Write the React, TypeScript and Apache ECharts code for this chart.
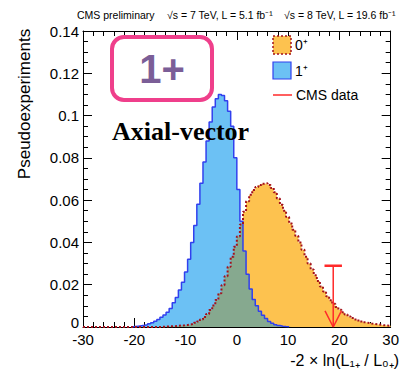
import React, { useEffect, useRef } from "react";
import * as echarts from "echarts";

// ---- data -------------------------------------------------------------
const BIN_START = -30;
const BIN_END = 30;
const BIN_WIDTH = 0.6;
const X_MIN = -30;
const X_MAX = 30;
const X_INTERVAL = 10;
const Y_MIN = 0;
const Y_MAX = 0.14;
const Y_INTERVAL = 0.02;

// 1+ (axial-vector) pseudo-experiments, bins starting at index 16 (x = -20.4)
const ONE_PLUS_FIRST_BIN = 16;
const onePlus = [
  0.0002, 0.0004, 0.0006, 0.0008, 0.0011, 0.0015, 0.002, 0.0027, 0.0036, 0.0046,
  0.0057, 0.007, 0.0088, 0.0115, 0.014, 0.0175, 0.0212, 0.026, 0.032, 0.04,
  0.048, 0.058, 0.068, 0.078, 0.088, 0.097, 0.104, 0.108, 0.11, 0.1095,
  0.107, 0.102, 0.095, 0.08, 0.065, 0.05, 0.036, 0.025, 0.018, 0.013,
  0.01, 0.0075, 0.0055, 0.004, 0.0026, 0.0018, 0.0011, 0.0007, 0.0004, 0.0002,
  0.0001,
];

// 0+ (SM) pseudo-experiments, bins starting at index 25 (x = -15.0)
const ZERO_PLUS_FIRST_BIN = 25;
const zeroPlus = [
  0.0001, 0.0002, 0.0003, 0.0003, 0.0004, 0.0005, 0.0007, 0.0008, 0.001, 0.0012,
  0.0015, 0.002, 0.0026, 0.0035, 0.0047, 0.0062, 0.008, 0.0102, 0.0128, 0.016,
  0.0198, 0.024, 0.0285, 0.0332, 0.038, 0.0428, 0.0485, 0.0545, 0.0595, 0.0625,
  0.0648, 0.0662, 0.0672, 0.0678, 0.068, 0.0672, 0.0658, 0.0637, 0.0608, 0.0578,
  0.055, 0.052, 0.049, 0.046, 0.043, 0.04, 0.0365, 0.0332, 0.03, 0.0272,
  0.0245, 0.0218, 0.0192, 0.0168, 0.0145, 0.0127, 0.011, 0.0095, 0.0082, 0.007,
  0.0059, 0.005, 0.0042, 0.0036, 0.0031, 0.0026, 0.0022, 0.0019, 0.0016, 0.0014,
  0.0012, 0.001, 0.0008, 0.0007, 0.0006,
];

// observed CMS value of the test statistic
const cmsObserved = 18.8;
const cmsArrowTop = 0.029;
const cmsBarHalfWidth = 1.7;
const cmsHeadHalfWidth = 1.6;
const cmsHeadHeight = 0.0076;

const titleTexts = [
  "CMS preliminary",
  "√s = 7 TeV, L = 5.1 fb⁻¹",
  "√s = 8 TeV, L = 19.6 fb⁻¹",
];

// ---- colours ----------------------------------------------------------
const ORANGE = "#fdc24f";
const ORANGE_LINE = "#a3121c";
const BLUE = "#6cc1f4";
const BLUE_LINE = "#3140ee";
const OVERLAP = "#86a98f";
const RED = "#ff2a2a";

const FONT = "'Liberation Sans', Arial, sans-serif";

export default function App() {
  const ref = useRef<HTMLDivElement>(null);

  useEffect(() => {
    if (!ref.current) return;
    const chart = echarts.init(ref.current, undefined, { renderer: "svg" });

    const nBins = Math.round((BIN_END - BIN_START) / BIN_WIDTH);
    const edge = (k: number) => +(BIN_START + k * BIN_WIDTH).toFixed(3);
    const fullArray = (first: number, vals: number[]) => {
      const out: number[] = [];
      for (let k = 0; k < nBins; k++) {
        const i = k - first;
        out.push(i >= 0 && i < vals.length ? vals[i] : 0);
      }
      return out;
    };
    const orangeFull = fullArray(ZERO_PLUS_FIRST_BIN, zeroPlus);
    const blueFull = fullArray(ONE_PLUS_FIRST_BIN, onePlus);
    const overlapFull = orangeFull.map((v, k) => Math.min(v, blueFull[k]));

    const toSteps = (arr: number[]) => {
      const pts: number[][] = arr.map((v, k) => [edge(k), v]);
      pts.push([BIN_END, arr[arr.length - 1]]);
      return pts;
    };
    const partialSteps = (first: number, vals: number[]) => {
      const pts: number[][] = [[edge(first), 0]];
      vals.forEach((v, i) => pts.push([edge(first + i), v]));
      pts.push([edge(first + vals.length), 0]);
      return pts;
    };

    const areaSeries = (name: string, data: number[][], color: string) => ({
      name,
      type: "line",
      step: "end",
      data,
      symbol: "none",
      lineStyle: { width: 0, opacity: 0 },
      areaStyle: { color, opacity: 1 },
      silent: true,
      z: 2,
    });
    const lineSeries = (name: string, data: number[][], color: string, width: number, type: any) => ({
      name,
      type: "line",
      data,
      symbol: "none",
      lineStyle: { color, width, type },
      silent: true,
      z: 3,
    });

    const orangeSteps = toSteps(orangeFull);
    const blueSteps = partialSteps(ONE_PLUS_FIRST_BIN, onePlus);

    const xAxisBase = {
      type: "value",
      min: X_MIN,
      max: X_MAX,
      interval: X_INTERVAL,
      splitLine: { show: false },
      axisLine: { onZero: false, lineStyle: { color: "#000", width: 1 } },
      axisTick: { inside: true, length: 9, lineStyle: { color: "#000" } },
      minorTick: { show: true, splitNumber: 5, length: 5, lineStyle: { color: "#000" } },
    };
    const yAxisBase = {
      type: "value",
      min: Y_MIN,
      max: Y_MAX,
      interval: Y_INTERVAL,
      splitLine: { show: false },
      axisLine: { show: true, onZero: false, lineStyle: { color: "#000", width: 1 } },
      axisTick: { show: true, inside: true, length: 9, lineStyle: { color: "#000" } },
      minorTick: { show: true, splitNumber: 4, length: 5, lineStyle: { color: "#000" } },
    };

    const G = 100;

    chart.setOption({
      animation: false,
      grid: { left: 83, top: 31, width: 315, height: 296 },
      xAxis: [
        {
          ...xAxisBase,
          position: "bottom",
          axisLabel: { fontSize: 15, color: "#000", fontFamily: FONT, margin: 5 },
        },
        { ...xAxisBase, position: "top", axisLabel: { show: false } },
      ],
      yAxis: [
        {
          ...yAxisBase,
          position: "left",
          axisLabel: {
            fontSize: 15,
            color: "#000",
            fontFamily: FONT,
            margin: 4,
            formatter: (v: number) => {
              const s = String(parseFloat(v.toFixed(2)));
              return v === 0 ? `{z|${s}}` : s;
            },
            rich: { z: { fontSize: 15, fontFamily: FONT, padding: [0, 0, 9, 0] } },
          },
        },
        { ...yAxisBase, position: "right", axisLabel: { show: false } },
      ],
      series: [
        areaSeries("0+", orangeSteps, ORANGE),
        areaSeries("1+", blueSteps, BLUE),
        areaSeries("overlap", toSteps(overlapFull), OVERLAP),
        { ...lineSeries("1+ line", blueSteps, BLUE_LINE, 1.5, "solid"), step: "end" },
        { ...lineSeries("0+ line", orangeSteps, ORANGE_LINE, 2, [2, 2]), step: "end" },
        lineSeries("CMS data", [[cmsObserved, cmsArrowTop], [cmsObserved, 0]], RED, 1.5, "solid"),
        lineSeries(
          "CMS bar",
          [[cmsObserved - cmsBarHalfWidth, cmsArrowTop], [cmsObserved + cmsBarHalfWidth, cmsArrowTop]],
          RED,
          2.5,
          "solid"
        ),
        lineSeries(
          "CMS head",
          [
            [cmsObserved - cmsHeadHalfWidth, cmsHeadHeight],
            [cmsObserved, 0],
            [cmsObserved + cmsHeadHalfWidth, cmsHeadHeight],
          ],
          RED,
          1.5,
          "solid"
        ),
      ],
      graphic: [
        {
          type: "text",
          z: G,
          x: 77,
          y: 15,
          style: { text: titleTexts[0], font: `10.5px ${FONT}`, fill: "#000", verticalAlign: "middle" },
        },
        {
          type: "text",
          z: G,
          x: 167,
          y: 15,
          style: { text: titleTexts[1], font: `10.5px ${FONT}`, fill: "#000", verticalAlign: "middle" },
        },
        {
          type: "text",
          z: G,
          x: 284,
          y: 15,
          style: { text: titleTexts[2], font: `10.5px ${FONT}`, fill: "#000", verticalAlign: "middle" },
        },
        {
          type: "text",
          z: G,
          x: 24,
          y: 104,
          rotation: Math.PI / 2,
          style: {
            text: "Pseudoexperiments",
            font: `17px ${FONT}`,
            fill: "#000",
            align: "center",
            verticalAlign: "middle",
          },
        },
        {
          type: "text",
          z: G,
          x: 399,
          y: 360,
          style: {
            text: "-2 × ln(L₁₊ / L₀₊)",
            font: `16px ${FONT}`,
            fill: "#000",
            align: "right",
            verticalAlign: "middle",
          },
        },
        {
          type: "rect",
          z: G,
          shape: { x: 112, y: 37, width: 100, height: 63, r: 12 },
          style: { fill: "#fff", stroke: "#ef3f8b", lineWidth: 4 },
        },
        {
          type: "text",
          z: G + 1,
          x: 162,
          y: 69,
          style: {
            text: "1+",
            font: `bold 40px ${FONT}`,
            fill: "#7b5e97",
            align: "center",
            verticalAlign: "middle",
          },
        },
        {
          type: "text",
          z: G,
          x: 112,
          y: 131,
          style: {
            text: "Axial-vector",
            font: `bold 26px 'Liberation Serif', 'Times New Roman', serif`,
            fill: "#000",
            verticalAlign: "middle",
          },
        },
        // legend
        {
          type: "rect",
          z: G,
          shape: { x: 273, y: 36, width: 18, height: 18 },
          style: { fill: ORANGE, stroke: ORANGE_LINE, lineWidth: 1.5, lineDash: [2, 2] },
        },
        {
          type: "text",
          z: G,
          x: 295,
          y: 45,
          style: { text: "0⁺", font: `14px ${FONT}`, fill: "#000", verticalAlign: "middle" },
        },
        {
          type: "rect",
          z: G,
          shape: { x: 273, y: 62, width: 18, height: 17 },
          style: { fill: BLUE, stroke: BLUE_LINE, lineWidth: 1.2 },
        },
        {
          type: "text",
          z: G,
          x: 295,
          y: 71,
          style: { text: "1⁺", font: `14px ${FONT}`, fill: "#000", verticalAlign: "middle" },
        },
        {
          type: "line",
          z: G,
          shape: { x1: 273, y1: 95, x2: 292, y2: 95 },
          style: { stroke: RED, lineWidth: 1.5 },
        },
        {
          type: "text",
          z: G,
          x: 296,
          y: 95,
          style: { text: "CMS data", font: `14px ${FONT}`, fill: "#000", verticalAlign: "middle" },
        },
      ],
    });

    return () => chart.dispose();
  }, []);

  return <div ref={ref} style={{ width: 402, height: 372, position: "absolute", left: 0, top: 0 }} />;
}
